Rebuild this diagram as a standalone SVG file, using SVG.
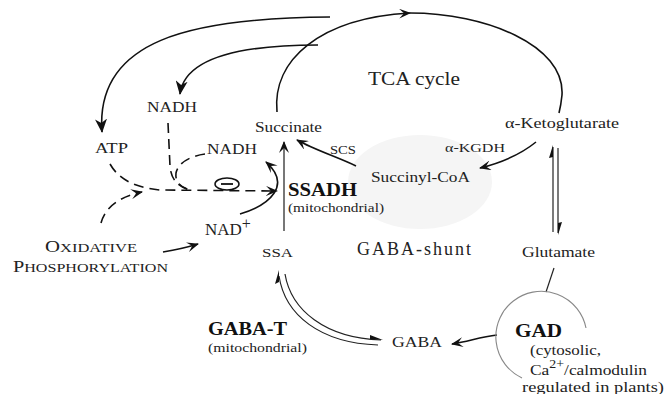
<svg xmlns="http://www.w3.org/2000/svg" width="664" height="394" viewBox="0 0 664 394">
<defs>
<marker id="ah" viewBox="0 0 14 12" refX="13" refY="6" markerWidth="14" markerHeight="12" markerUnits="userSpaceOnUse" orient="auto"><path d="M0,0 L14,6 L0,12 L4,6 Z" fill="#111"/></marker>
<marker id="as" viewBox="0 0 12 10" refX="11" refY="5" markerWidth="12" markerHeight="10" markerUnits="userSpaceOnUse" orient="auto"><path d="M0,0 L12,5 L0,10 L5,5 Z" fill="#111"/></marker>
</defs>
<style>
text{font-family:"Liberation Serif","Times New Roman",serif;fill:#222}
.b{font-weight:bold;fill:#111}
.c{fill:none;stroke:#111;stroke-width:1.6}
.t{fill:none;stroke:#222;stroke-width:1.2}
.g{fill:none;stroke:#555;stroke-width:1.6}
.d{fill:none;stroke:#111;stroke-width:1.6;stroke-dasharray:10 6}
.h{fill:#111;stroke:none}
</style>
<rect width="664" height="394" fill="#fff"/>
<ellipse cx="420" cy="182" rx="72" ry="47" fill="#f5f5f5"/>

<g id="connectors">
<path class="c" d="M277,112 C272,60 320,18 410,13" marker-end="url(#as)"/>
<path class="c" d="M410,13 C485,13 565,45 562,95 Q561,105 559,113"/>
<path class="c" d="M330,17 C190,18 95,40 102,132" marker-end="url(#ah)"/>
<path class="c" d="M318,45 C250,45 185,55 180,94" marker-end="url(#ah)"/>
<path class="c" d="M356,166 C340,158 315,150 297,140" marker-end="url(#as)"/>
<path class="c" d="M536,142 C520,155 500,163 480,168" marker-end="url(#as)"/>
<path class="g" d="M284,231 L284,142" marker-end="url(#as)"/>
<path class="c" d="M240,214 C270,205 292,185 266,162" marker-end="url(#as)"/>
<path class="d" d="M110,164 C118,178 132,187 160,190 L277,191" marker-end="url(#as)"/>
<path class="d" d="M168,123 L170,166 C171,178 176,186 190,190"/>
<path class="d" d="M205,154 C190,156 178,163 176,173 C175,182 180,187 190,190"/>
<path class="d" d="M101,223 C105,208 118,197 142,192" marker-end="url(#as)"/>
<path class="c" d="M163,252 C175,250 185,248 198,244" marker-end="url(#as)"/>
<path class="t" d="M553,147 L553,232"/>
<path class="t" d="M558,148 L558,233"/>
<path class="h" d="M553,145 L549,158 L553,157 Z"/>
<path class="h" d="M558,235 L562,222 L558,223 Z"/>
<path class="t" d="M279,276 C285,315 320,343 378,345"/>
<path class="t" d="M285,274 C291,310 325,338 381,340"/>
<path class="h" d="M279,270 L275,284 L279,282 Z"/>
<path class="h" d="M383,340 L370,335 L370,339 Z"/>
<path class="t" d="M554,268 L546,292"/>
<path class="c" d="M497,335 C480,337 470,341 452,344" marker-end="url(#as)"/>
</g>

<g id="inhibition">
<ellipse cx="227" cy="184" rx="12" ry="6" fill="#fff" stroke="#111" stroke-width="1.5"/>
<line x1="221" y1="184" x2="233" y2="184" stroke="#111" stroke-width="1.8"/>
</g>

<g id="tca"><text x="368" y="85" font-size="19" textLength="92" lengthAdjust="spacingAndGlyphs">TCA cycle</text></g>
<g id="akg"><text x="505" y="128" font-size="15" textLength="114" lengthAdjust="spacingAndGlyphs">α-Ketoglutarate</text></g>
<g id="akgdh"><text x="445" y="152" font-size="13" textLength="60" lengthAdjust="spacingAndGlyphs">α-KGDH</text></g>
<g id="succoa"><text x="371" y="182" font-size="14.5" textLength="99" lengthAdjust="spacingAndGlyphs">Succinyl-CoA</text></g>
<g id="succinate"><text x="255" y="132" font-size="14.5" textLength="67" lengthAdjust="spacingAndGlyphs">Succinate</text></g>
<g id="scs"><text x="330" y="154" font-size="12" textLength="26" lengthAdjust="spacingAndGlyphs">SCS</text></g>
<g id="nadh1"><text x="147" y="112" font-size="14" textLength="50" lengthAdjust="spacingAndGlyphs">NADH</text></g>
<g id="atp"><text x="95" y="153" font-size="14" textLength="33" lengthAdjust="spacingAndGlyphs">ATP</text></g>
<g id="nadh2"><text x="207" y="154" font-size="14" textLength="50" lengthAdjust="spacingAndGlyphs">NADH</text></g>
<g id="ssadh">
<text class="b" x="288" y="196" font-size="18" textLength="69" lengthAdjust="spacingAndGlyphs">SSADH</text>
<text x="288" y="212" font-size="13" textLength="96" lengthAdjust="spacingAndGlyphs">(mitochondrial)</text>
</g>
<g id="nad"><text x="205" y="235" font-size="17">NAD<tspan font-size="16" dy="-6">+</tspan></text></g>
<g id="ssa"><text x="262" y="257" font-size="13" textLength="31" lengthAdjust="spacingAndGlyphs">SSA</text></g>
<g id="oxphos">
<text x="45" y="252" font-size="17" textLength="92" lengthAdjust="spacingAndGlyphs">O<tspan font-size="13.5">XIDATIVE</tspan></text>
<text x="13" y="272" font-size="17" textLength="155" lengthAdjust="spacingAndGlyphs">P<tspan font-size="13.5">HOSPHORYLATION</tspan></text>
</g>
<g id="shunt"><text x="357" y="255" font-size="18" textLength="114" lengthAdjust="spacing">GABA-shunt</text></g>
<g id="glutamate"><text x="522" y="257" font-size="14" textLength="73" lengthAdjust="spacingAndGlyphs">Glutamate</text></g>
<g id="gabat">
<text class="b" x="208" y="335" font-size="18" textLength="79" lengthAdjust="spacingAndGlyphs">GABA-T</text>
<text x="208" y="352" font-size="13" textLength="99" lengthAdjust="spacingAndGlyphs">(mitochondrial)</text>
</g>
<g id="gaba"><text x="392" y="347" font-size="14" textLength="50" lengthAdjust="spacingAndGlyphs">GABA</text></g>
<g id="gad">
<path d="M586,328 A45.5,45.5 0 1 0 522,378" fill="none" stroke="#888" stroke-width="1.1"/>
<text class="b" x="515" y="337" font-size="19" textLength="47" lengthAdjust="spacingAndGlyphs">GAD</text>
<text x="530" y="355" font-size="14" textLength="71" lengthAdjust="spacingAndGlyphs">(cytosolic,</text>
<text x="530" y="375" font-size="15" textLength="117" lengthAdjust="spacingAndGlyphs">Ca<tspan font-size="12" dy="-7">2+</tspan><tspan dy="7">/calmodulin</tspan></text>
<text x="522" y="392" font-size="14" textLength="142" lengthAdjust="spacingAndGlyphs">regulated in plants)</text>
</g>
</svg>
